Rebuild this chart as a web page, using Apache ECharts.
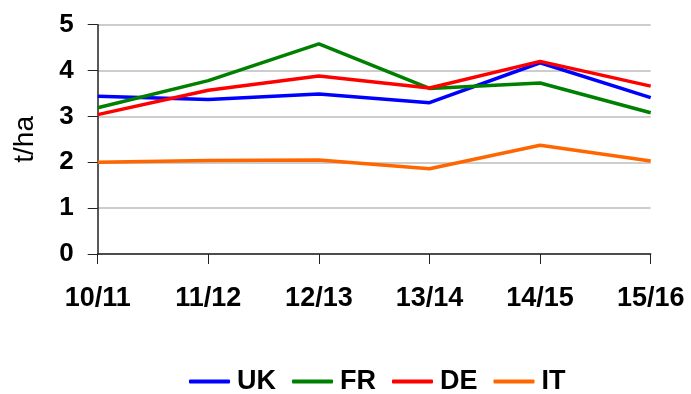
<!DOCTYPE html>
<html>
<head>
<meta charset="utf-8">
<script src="https://cdn.jsdelivr.net/npm/echarts@6/dist/echarts.min.js"></script>
<style>
  html, body { margin: 0; padding: 0; background: #fff; }
  #chart { width: 691px; height: 394px; }
</style>
</head>
<body>
<div id="chart"></div>
<script>
// Crop yields by marketing year, tonnes per hectare
const seasons = ['10/11', '11/12', '12/13', '13/14', '14/15', '15/16'];
const ukYield = [3.44, 3.37, 3.49, 3.30, 4.17, 3.41];
const frYield = [3.19, 3.78, 4.58, 3.61, 3.73, 3.08];
const deYield = [3.04, 3.57, 3.88, 3.62, 4.20, 3.66];
const itYield = [2.00, 2.04, 2.05, 1.86, 2.37, 2.03];

const seriesDefs = [
  { name: 'UK', data: ukYield, color: '#0000ff' },
  { name: 'FR', data: frYield, color: '#008000' },
  { name: 'DE', data: deYield, color: '#ff0000' },
  { name: 'IT', data: itYield, color: '#ff6600' }
];

const font = 'Liberation Sans, Arial, sans-serif';
const chart = echarts.init(document.getElementById('chart'));
chart.setOption({
  animation: false,
  grid: { left: 97.7, right: 40.3, top: 24.7, bottom: 140 },
  legend: {
    top: 363,
    left: 184,
    itemWidth: 41,
    itemHeight: 4,
    itemGap: 16,
    icon: 'roundRect',
    textStyle: { fontFamily: font, fontSize: 27, fontWeight: 'bold', color: '#000', padding: [0, 0, 0, 2] },
    data: seriesDefs.map(s => s.name)
  },
  xAxis: {
    type: 'category',
    data: seasons,
    boundaryGap: false,
    axisLine: { lineStyle: { color: '#222', width: 1.5 } },
    axisTick: { show: true, length: 10, inside: false, lineStyle: { color: '#222' } },
    axisLabel: { margin: 31, fontFamily: font, fontSize: 27, fontWeight: 'bold', color: '#000' }
  },
  yAxis: {
    type: 'value',
    min: 0, max: 5, interval: 1,
    name: 't/ha',
    nameLocation: 'middle',
    nameGap: 58,
    nameRotate: 90,
    nameTextStyle: { fontFamily: font, fontSize: 28, color: '#000' },
    axisLine: { show: true, lineStyle: { color: '#222', width: 1.5 } },
    axisTick: { show: true, length: 10, lineStyle: { color: '#222' } },
    axisLabel: { margin: 24, fontFamily: font, fontSize: 26, fontWeight: 'bold', color: '#000' },
    splitLine: { lineStyle: { color: '#bdbdbd', width: 1.5 } }
  },
  series: seriesDefs.map(s => ({
    name: s.name,
    type: 'line',
    data: s.data,
    symbol: 'none',
    color: s.color,
    lineStyle: { color: s.color, width: 3.5 }
  }))
});
</script>
</body>
</html>
